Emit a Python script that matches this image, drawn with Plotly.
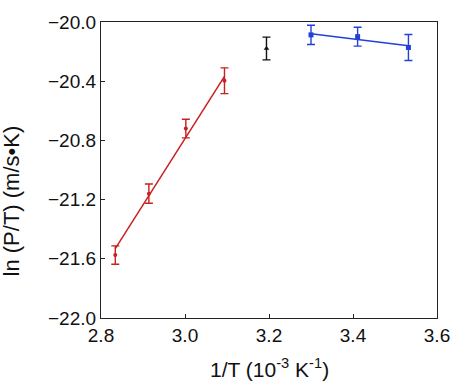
import plotly.graph_objects as go

# Data
red_x = [2.834, 2.914, 3.002, 3.094]
red_y = [-21.575, -21.160, -20.720, -20.397]
red_err = [0.062, 0.065, 0.063, 0.087]

black_x = [3.194]
black_y = [-20.179]
black_err = [0.077]

blue_x = [3.300, 3.411, 3.532]
blue_y = [-20.087, -20.099, -20.172]
blue_err = [0.065, 0.064, 0.088]

red_fit_x = [2.834, 3.094]
red_fit_y = [-21.531, -20.368]
blue_fit_x = [3.300, 3.532]
blue_fit_y = [-20.080, -20.160]

x_ticks = [2.8, 3.0, 3.2, 3.4, 3.6]
y_ticks = [-22.0, -21.6, -21.2, -20.8, -20.4, -20.0]

RED = "#C8201E"
BLUE = "#2340D8"
BLACK = "#111111"
FONT = "Liberation Sans, Arial, Helvetica, sans-serif"

fig = go.Figure()

fig.add_trace(go.Scatter(x=red_fit_x, y=red_fit_y, mode="lines",
                         line=dict(color=RED, width=1.5), hoverinfo="skip"))
fig.add_trace(go.Scatter(x=blue_fit_x, y=blue_fit_y, mode="lines",
                         line=dict(color=BLUE, width=1.5), hoverinfo="skip"))

fig.add_trace(go.Scatter(x=red_x, y=red_y, mode="markers",
                         marker=dict(color=RED, size=4, symbol="circle"),
                         error_y=dict(type="data", array=red_err, color=RED,
                                      thickness=1.4, width=4)))
fig.add_trace(go.Scatter(x=black_x, y=black_y, mode="markers",
                         marker=dict(color=BLACK, size=5, symbol="triangle-up"),
                         error_y=dict(type="data", array=black_err, color=BLACK,
                                      thickness=1.4, width=4)))
fig.add_trace(go.Scatter(x=blue_x, y=blue_y, mode="markers",
                         marker=dict(color=BLUE, size=5, symbol="square"),
                         error_y=dict(type="data", array=blue_err, color=BLUE,
                                      thickness=1.4, width=4)))

axis_common = dict(showgrid=False, zeroline=False, showline=True,
                   linecolor="#222222", linewidth=1.3, mirror=True,
                   ticks="inside", ticklen=4, tickwidth=1, tickcolor="#222222",
                   tickfont=dict(family=FONT, size=19, color="#111111"))

fig.update_xaxes(range=[2.8, 3.6], tickvals=x_ticks,
                 ticktext=[f"{v:.1f}" for v in x_ticks], **axis_common)
fig.update_yaxes(range=[-22.0, -20.0], tickvals=y_ticks,
                 ticktext=[f"{v:.1f}".replace("-", "\u2212") for v in y_ticks],
                 **axis_common)

fig.add_annotation(text="1/T (10<sup>-3</sup> K<sup>-1</sup>)",
                   xref="paper", yref="paper", x=0.5, y=-0.17,
                   showarrow=False, xanchor="center", yanchor="middle",
                   font=dict(family=FONT, size=21, color="#111111"))
fig.add_annotation(text="ln (P/T) (m/s\u2022K)",
                   xref="paper", yref="paper", x=-0.265, y=0.397,
                   showarrow=False, xanchor="center", yanchor="middle",
                   textangle=-90,
                   font=dict(family=FONT, size=22, color="#111111"))

fig.update_layout(width=462, height=387,
                  margin=dict(l=101, r=18, t=13, b=69),
                  paper_bgcolor="white", plot_bgcolor="white",
                  showlegend=False)

fig.write_html("out.html", config={"displayModeBar": False},
               post_script="document.body.style.margin='0';")
